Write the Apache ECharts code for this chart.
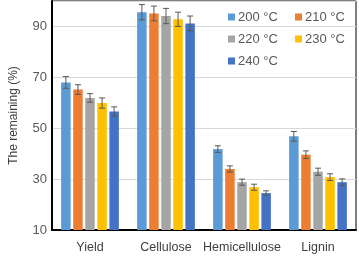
<!DOCTYPE html>
<html>
<head>
<meta charset="utf-8">
<script src="https://cdn.jsdelivr.net/npm/echarts@6/dist/echarts.min.js"></script>
<style>
  html, body { margin: 0; padding: 0; background: #fff; }
  #chart { width: 359px; height: 258px; }
</style>
</head>
<body>
<div id="chart"></div>
<script>
const categories = ['Yield', 'Cellulose', 'Hemicellulose', 'Lignin'];
const temps = ['200 °C', '210 °C', '220 °C', '230 °C', '240 °C'];
const yTicks = [10, 30, 50, 70, 90];

const s200 = [68.0, 95.6, 41.8, 46.8];
const s210 = [65.2, 95.1, 34.0, 39.6];
const s220 = [61.9, 94.1, 28.8, 32.9];
const s230 = [59.9, 92.8, 26.8, 30.8];
const s240 = [56.6, 91.2, 24.5, 28.8];

const e200 = [2.3, 3.0, 1.3, 1.9];
const e210 = [1.9, 2.9, 1.2, 1.5];
const e220 = [1.7, 3.0, 1.2, 1.4];
const e230 = [2.0, 2.8, 1.2, 1.3];
const e240 = [1.8, 2.9, 0.9, 1.3];

const values = [s200, s210, s220, s230, s240];
const errors = [e200, e210, e220, e230, e240];
const colors = ['#5B9BD5', '#ED7D31', '#A5A5A5', '#FFC000', '#4472C4'];

const barWidth = 9.5;
const barGap = 0.27;
const pitch = barWidth * (1 + barGap);

const chart = echarts.init(document.getElementById('chart'));

const barSeries = values.map((v, i) => ({
  name: temps[i],
  type: 'bar',
  data: v,
  barWidth: barWidth,
  barGap: (barGap * 100) + '%',
  itemStyle: { color: colors[i] },
  z: 2
}));

const errSeries = values.map((v, i) => ({
  type: 'custom',
  data: v.map((val, k) => [k, val - errors[i][k], val + errors[i][k]]),
  z: 5,
  silent: true,
  renderItem: (params, api) => {
    const lo = api.coord([api.value(0), api.value(1)]);
    const hi = api.coord([api.value(0), api.value(2)]);
    const x = lo[0] + (i - 2) * pitch;
    const cap = 3;
    const style = { stroke: '#595959', lineWidth: 1 };
    return {
      type: 'group',
      children: [
        { type: 'line', shape: { x1: x, y1: lo[1], x2: x, y2: hi[1] }, style },
        { type: 'line', shape: { x1: x - cap, y1: hi[1], x2: x + cap, y2: hi[1] }, style },
        { type: 'line', shape: { x1: x - cap, y1: lo[1], x2: x + cap, y2: lo[1] }, style }
      ]
    };
  }
}));

const legendBase = {
  orient: 'vertical',
  top: 10,
  padding: 0,
  itemWidth: 7,
  itemHeight: 7,
  itemGap: 8,
  icon: 'rect',
  textStyle: { fontFamily: 'Liberation Sans', fontSize: 13, color: '#595959', lineHeight: 14, padding: [0, 0, 0, -2] }
};

chart.setOption({
  animation: false,
  legend: [
    Object.assign({}, legendBase, { left: 228, data: [temps[0], temps[2], temps[4]] }),
    Object.assign({}, legendBase, { left: 295, data: [temps[1], temps[3]] })
  ],
  grid: {
    left: 47,
    right: 3,
    top: 1,
    bottom: 28,
    show: true,
    borderColor: '#000',
    borderWidth: 1
  },
  xAxis: {
    type: 'category',
    data: categories,
    axisTick: { show: false },
    axisLine: { lineStyle: { color: '#000', width: 2 } },
    axisLabel: { interval: 0, color: '#404040', fontFamily: 'Liberation Sans', fontSize: 12.5, margin: 11 }
  },
  yAxis: {
    type: 'value',
    min: yTicks[0],
    max: 100,
    interval: yTicks[1] - yTicks[0],
    name: 'The remaining (%)',
    nameLocation: 'middle',
    nameGap: 32,
    nameTextStyle: { color: '#404040', fontFamily: 'Liberation Sans', fontSize: 12 },
    axisLine: { show: true, lineStyle: { color: '#000', width: 2 } },
    axisTick: { show: false },
    axisLabel: { color: '#595959', fontFamily: 'Liberation Sans', fontSize: 13, margin: 5, showMaxLabel: false },
    splitLine: { lineStyle: { color: '#D9D9D9', width: 1 } }
  },
  series: barSeries.concat(errSeries)
});
</script>
</body>
</html>
